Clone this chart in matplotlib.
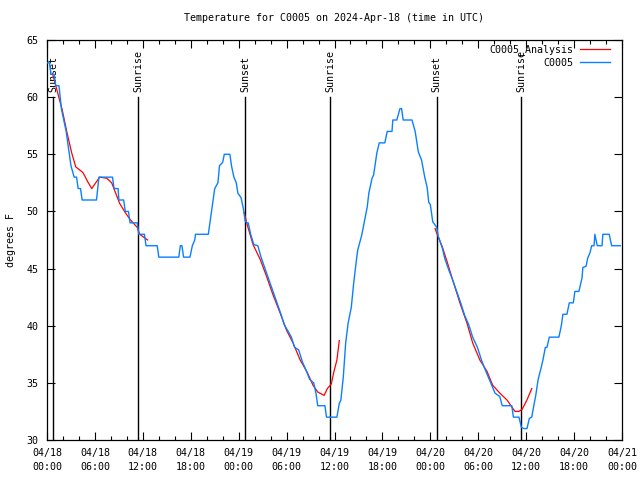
import numpy as np
import matplotlib
matplotlib.use("Agg")
import matplotlib.pyplot as plt
from matplotlib.ticker import MultipleLocator

FONT = "DejaVu Sans Mono"
FS = 7.2

title = "Temperature for C0005 on 2024-Apr-18 (time in UTC)"
ylabel = "degrees F"

# hours since 04/18 00:00 UTC
obs_h = [0.0, 0.3, 0.5, 0.9, 1.1, 1.5, 1.8, 2.1, 2.4, 2.6, 2.8, 3.0, 3.2, 3.4, 3.7, 3.9,
         4.2, 4.4, 6.2, 6.5, 8.2, 8.4, 8.9, 9.0, 9.6, 9.8, 10.2, 10.4, 11.3, 11.5, 12.2,
         12.4, 13.8, 14.0, 16.5, 16.7, 16.9, 17.1, 17.9, 18.2, 18.5, 18.6, 20.2, 20.4,
         20.6, 20.8, 21.0, 21.4, 21.6, 22.0, 22.2, 22.9, 23.1, 23.4, 23.7, 23.9, 24.3,
         24.6, 24.8, 25.0, 25.2, 25.5, 25.9, 26.4, 26.8, 27.3, 27.8, 28.3, 28.8, 29.3,
         29.7, 30.2, 30.6, 31.0, 31.5, 32.0, 32.5, 32.9, 33.4, 33.7, 33.9, 34.8, 35.0,
         36.3, 36.6, 36.8, 37.1, 37.4, 37.7, 38.1, 38.4, 38.7, 38.9, 39.4, 39.6, 40.1,
         40.3, 40.7, 40.9, 41.3, 41.6, 42.3, 42.6, 43.2, 43.3, 43.8, 44.2, 44.4, 44.6,
         45.7, 46.1, 46.5, 46.9, 47.3, 47.6, 47.8, 48.0, 48.3, 48.8, 49.0, 49.5, 49.8,
         50.3, 50.8, 51.3, 51.8, 52.3, 52.8, 53.3, 53.9, 54.4, 54.9, 55.5, 56.1, 56.7,
         57.0, 58.2, 58.4, 59.1, 59.4, 59.7, 60.1, 60.4, 60.7, 60.9, 61.2, 61.5, 61.9,
         62.1, 62.4, 62.6, 62.9, 64.1, 64.4, 64.6, 65.1, 65.4, 65.9, 66.1, 66.6, 67.0,
         67.1, 67.5, 67.7, 68.0, 68.2, 68.5, 68.6, 68.9, 69.5, 69.6, 70.4, 70.7, 71.8]
obs_t = [63, 63, 62, 62, 61, 61, 59, 58, 57, 56, 55, 54, 53.5, 53, 53, 52,
         52, 51, 51, 53, 53, 52, 52, 51, 51, 50, 50, 49, 49, 48, 48,
         47, 47, 46, 46, 47, 47, 46, 46, 47, 47.5, 48, 48, 49,
         50, 51, 52, 52.5, 54, 54.3, 55, 55, 54, 53, 52.5, 51.6, 51.2,
         50.2, 49.2, 49, 49, 48, 47.1, 47, 46, 45, 44, 43, 42, 41,
         40.1, 39.5, 39, 38.1, 37.9, 36.8, 36, 35.3, 35, 34, 33, 33, 32,
         32, 33.2, 33.5, 35.5, 38.5, 40.2, 41.6, 43.7, 45.5, 46.6, 47.9, 48.6, 50.4,
         51.6, 52.9, 53.2, 55.1, 56, 56, 57, 57, 58, 58, 59, 59, 58,
         58, 57, 55.2, 54.5, 53, 52.1, 50.8, 50.6, 49.1, 48.6, 47.8, 46.8, 45.9,
         44.9, 44, 43, 42, 40.9, 40.1, 39, 38.1, 37, 36.1, 35.1, 34.1, 33.8,
         33, 33, 32, 32, 31.1, 31, 31, 31.9, 32, 32.8, 33.9, 35.3, 36.4,
         37, 38.1, 38.1, 39, 39, 40, 41, 41, 42, 42, 43, 43, 44.2,
         45.1, 45.2, 45.9, 46.4, 47, 47, 48, 47, 47, 48, 48, 47, 47]

ana_h = [0.75, 1.25, 1.9, 2.5, 3.1, 3.6, 4.5, 5.1, 5.6, 6.2, 6.6, 7.5, 8.1, 8.6, 9.1,
         9.8, 10.4, 11.3, 11.6, 12.0, 12.6, np.nan,
         24.7, 25.0, 25.8, 26.7, 27.5, 28.3, 29.2, 30.0, 30.8, 31.7, 32.6, 33.3, 33.9,
         34.7, 35.1, 35.6, 35.9, 36.3, 36.6, np.nan,
         48.6, 48.8, 49.5, 50.1, 50.8, 51.7, 52.6, 53.3, 54.2, 55.1, 55.8, 56.7, 57.6,
         58.2, 58.6, 59.1, 59.5, 60.1, 60.7]
ana_t = [61.9, 60.6, 58.9, 56.9, 55.1, 53.9, 53.4, 52.6, 52.0, 52.6, 53.0, 52.9, 52.5,
         51.6, 50.7, 49.9, 49.3, 48.6, 48.0, 47.8, 47.5, np.nan,
         49.9, 49.0, 47.1, 45.8, 44.3, 42.7, 41.1, 39.6, 38.5, 37.0, 35.9, 34.8, 34.2,
         33.9, 34.5, 34.9, 35.9, 37.0, 38.7, np.nan,
         48.5, 48.1, 46.9, 45.6, 44.0, 42.0, 40.2, 38.5, 37.0, 36.0, 34.8, 34.1, 33.5,
         32.9, 32.5, 32.5, 32.7, 33.5, 34.5]

event_h = [0.75, 11.4, 24.8, 35.45, 48.8, 59.35]
event_lbl = ["Sunset", "Sunrise", "Sunset", "Sunrise", "Sunset", "Sunrise"]
event_top = 60

xtick_h = [0, 6, 12, 18, 24, 30, 36, 42, 48, 54, 60, 66, 72]
xtick_lbl = ["04/18\n00:00", "04/18\n06:00", "04/18\n12:00", "04/18\n18:00",
             "04/19\n00:00", "04/19\n06:00", "04/19\n12:00", "04/19\n18:00",
             "04/20\n00:00", "04/20\n06:00", "04/20\n12:00", "04/20\n18:00",
             "04/21\n00:00"]
ytick_v = [30, 35, 40, 45, 50, 55, 60, 65]

fig = plt.figure(figsize=(6.4, 4.8), dpi=100)
ax = fig.add_axes([47/640, 1-440/480, 575/640, 400/480])

for h, lbl in zip(event_h, event_lbl):
    ax.plot([h, h], [30, event_top], color="black", lw=1.0, zorder=1)
    ax.text(h, event_top + 0.45, lbl, rotation=90, ha="center", va="bottom",
            fontsize=FS, family=FONT, zorder=1)

ax.plot(ana_h, ana_t, color="#ff0000", lw=0.9, label="C0005_Analysis", zorder=2)
ax.plot(obs_h, obs_t, color="#0a80ff", lw=1.0, label="C0005", zorder=3)

ax.set_xlim(0, 72)
ax.set_ylim(30, 65)
ax.set_xticks(xtick_h)
ax.set_xticklabels(xtick_lbl, family=FONT, fontsize=FS, linespacing=1.5)
ax.xaxis.set_minor_locator(MultipleLocator(2))
ax.set_yticks(ytick_v)
ax.set_yticklabels([str(v) for v in ytick_v], family=FONT, fontsize=FS)
ax.tick_params(axis="both", which="major", direction="in", length=6, width=0.8,
               top=True, right=True, pad=6)
ax.tick_params(axis="x", which="minor", direction="in", length=3, width=0.8,
               top=True, bottom=True)
for s in ax.spines.values():
    s.set_linewidth(0.9)

ax.set_ylabel(ylabel, family=FONT, fontsize=FS, labelpad=8)
fig.text(334.5/640, 1-18/480, title, ha="center", va="center", family=FONT, fontsize=FS)

leg = ax.legend(loc="upper right", frameon=False, markerfirst=False,
                prop={"family": FONT, "size": FS}, handlelength=3.0,
                handletextpad=0.7, labelspacing=0.25, borderaxespad=0.0,
                bbox_to_anchor=(0.986, 0.999))

fig.savefig("out.png", dpi=100)
